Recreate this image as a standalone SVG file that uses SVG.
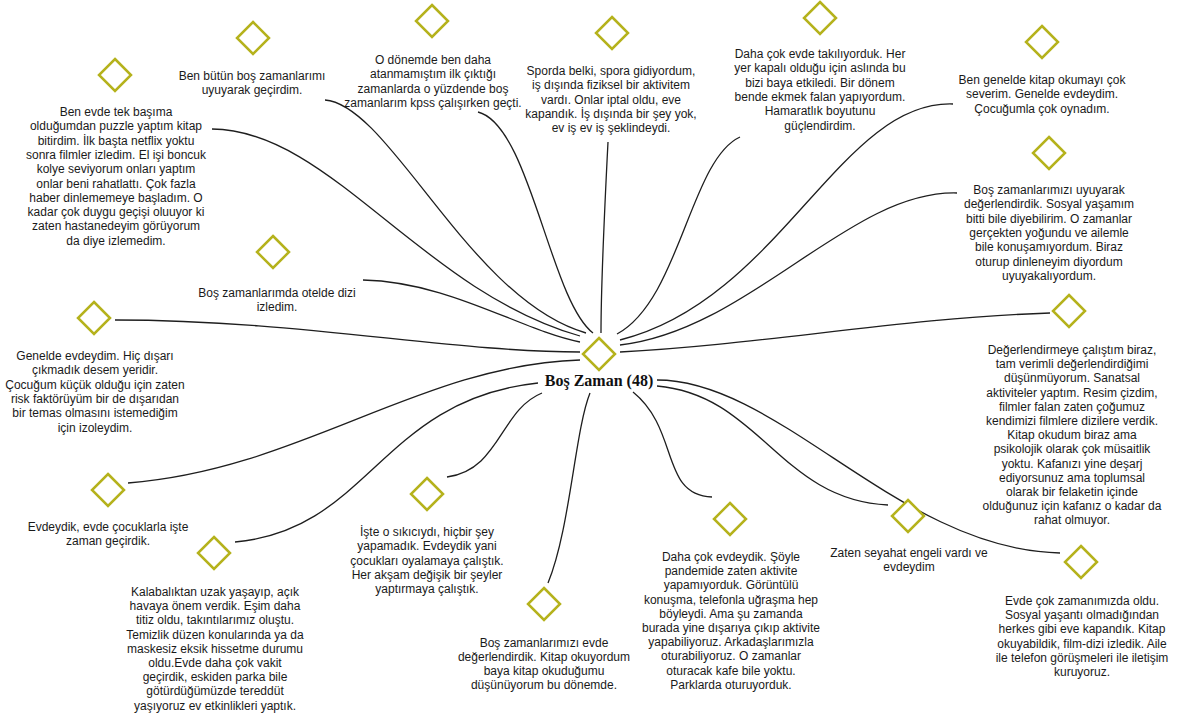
<svg xmlns="http://www.w3.org/2000/svg" width="1180" height="718" viewBox="0 0 1180 718">
<style>
.bg{fill:#ffffff}
.dm{fill:#ffffff;stroke:#b5b21c;stroke-width:2.5}
.t{font-family:"Liberation Sans",Arial,sans-serif;font-size:12px;fill:#1a1a1a;text-anchor:middle}
.c{fill:none;stroke:#1e1e1e;stroke-width:1.3}
.lbl{font-family:"Liberation Serif","Times New Roman",serif;font-size:16px;font-weight:bold;fill:#111;text-anchor:middle}
</style>
<defs>
<path id="dia" d="M0,-16 L16,0 L0,16 L-16,0 Z"/>
</defs>
<rect class="bg" width="1180" height="718"/>
<g id="connectors">
<path class="c" d="M212,129 C330,130 420,290 580,336"/>
<path class="c" d="M325,100 C390,105 470,300 586,333"/>
<path class="c" d="M478,112 C530,125 550,300 593,333"/>
<path class="c" d="M608,142 C604,220 601,290 601,333"/>
<path class="c" d="M740,137 C690,160 680,300 617,334"/>
<path class="c" d="M953,104 C840,100 780,300 620,340"/>
<path class="c" d="M957,193 C850,190 750,330 620,345"/>
<path class="c" d="M1050,313 C900,318 760,345 620,352"/>
<path class="c" d="M363,280 C450,282 520,330 580,342"/>
<path class="c" d="M115,320 C300,320 450,352 580,352"/>
<path class="c" d="M128,483 C300,470 420,365 580,360"/>
<path class="c" d="M235,542 C370,530 380,400 538,383"/>
<path class="c" d="M447,477 C500,470 500,410 542,393"/>
<path class="c" d="M548,583 C570,530 575,430 590,393"/>
<path class="c" d="M633,392 C680,430 660,495 712,497"/>
<path class="c" d="M657,386 C760,395 780,500 888,505"/>
<path class="c" d="M657,380 C780,380 900,550 1060,553"/>
</g>
<g id="center">
<use href="#dia" class="dm" x="599" y="354"/>
<text class="lbl" x="599" y="386">Boş Zaman (48)</text>
</g>
<g id="nA">
<use href="#dia" class="dm" x="253" y="38"/>
<text class="t" x="252" y="80"><tspan x="252">Ben bütün boş zamanlarımı</tspan><tspan x="252" dy="14.3">uyuyarak geçirdim.</tspan></text>
</g>
<g id="nB">
<use href="#dia" class="dm" x="115" y="75"/>
<text class="t" y="116"><tspan x="116">Ben evde tek başıma</tspan><tspan x="116" dy="14.3">olduğumdan puzzle yaptım kitap</tspan><tspan x="116" dy="14.3">bitirdim. İlk başta netflix yoktu</tspan><tspan x="116" dy="14.3">sonra filmler izledim. El işi boncuk</tspan><tspan x="116" dy="14.3">kolye seviyorum onları yaptım</tspan><tspan x="116" dy="14.3">onlar beni rahatlattı. Çok fazla</tspan><tspan x="116" dy="14.3">haber dinlememeye başladım. O</tspan><tspan x="116" dy="14.3">kadar çok duygu geçişi oluuyor ki</tspan><tspan x="116" dy="14.3">zaten hastanedeyim görüyorum</tspan><tspan x="116" dy="14.3">da diye izlemedim.</tspan></text>
</g>
<g id="nC">
<use href="#dia" class="dm" x="432" y="21"/>
<text class="t" y="64"><tspan x="433">O dönemde ben daha</tspan><tspan x="433" dy="14.3">atanmamıştım ilk çıktığı</tspan><tspan x="433" dy="14.3">zamanlarda o yüzdende boş</tspan><tspan x="433" dy="14.3">zamanlarım kpss çalışırken geçti.</tspan></text>
</g>
<g id="nD">
<use href="#dia" class="dm" x="612" y="33"/>
<text class="t" y="75"><tspan x="611">Sporda belki, spora gidiyordum,</tspan><tspan x="611" dy="14.3">iş dışında fiziksel bir aktivitem</tspan><tspan x="611" dy="14.3">vardı. Onlar iptal oldu, eve</tspan><tspan x="611" dy="14.3">kapandık. İş dışında bir şey yok,</tspan><tspan x="611" dy="14.3">ev iş ev iş şeklindeydi.</tspan></text>
</g>
<g id="nE">
<use href="#dia" class="dm" x="820" y="18"/>
<text class="t" y="58"><tspan x="820">Daha çok evde takılıyorduk. Her</tspan><tspan x="820" dy="14.3">yer kapalı olduğu için aslında bu</tspan><tspan x="820" dy="14.3">bizi baya etkiledi. Bir dönem</tspan><tspan x="820" dy="14.3">bende ekmek falan yapıyordum.</tspan><tspan x="820" dy="14.3">Hamaratlık boyutunu</tspan><tspan x="820" dy="14.3">güçlendirdim.</tspan></text>
</g>
<g id="nF">
<use href="#dia" class="dm" x="1042" y="42"/>
<text class="t" y="84"><tspan x="1042">Ben genelde kitap okumayı çok</tspan><tspan x="1042" dy="14.3">severim. Genelde evdeydim.</tspan><tspan x="1042" dy="14.3">Çocuğumla çok oynadım.</tspan></text>
</g>
<g id="nG">
<use href="#dia" class="dm" x="1049" y="153"/>
<text class="t" y="194"><tspan x="1049">Boş zamanlarımızı uyuyarak</tspan><tspan x="1049" dy="14.3">değerlendirdik. Sosyal yaşamım</tspan><tspan x="1049" dy="14.3">bitti bile diyebilirim. O zamanlar</tspan><tspan x="1049" dy="14.3">gerçekten yoğundu ve ailemle</tspan><tspan x="1049" dy="14.3">bile konuşamıyordum. Biraz</tspan><tspan x="1049" dy="14.3">oturup dinleneyim diyordum</tspan><tspan x="1049" dy="14.3">uyuyakalıyordum.</tspan></text>
</g>
<g id="nH">
<use href="#dia" class="dm" x="273" y="252"/>
<text class="t" y="297"><tspan x="277">Boş zamanlarımda otelde dizi</tspan><tspan x="277" dy="14.3">izledim.</tspan></text>
</g>
<g id="nI">
<use href="#dia" class="dm" x="94" y="318"/>
<text class="t" y="360"><tspan x="95">Genelde evdeydim. Hiç dışarı</tspan><tspan x="95" dy="14.3">çıkmadık desem yeridir.</tspan><tspan x="95" dy="14.3">Çocuğum küçük olduğu için zaten</tspan><tspan x="95" dy="14.3">risk faktörüyüm bir de dışarıdan</tspan><tspan x="95" dy="14.3">bir temas olmasını istemediğim</tspan><tspan x="95" dy="14.3">için izoleydim.</tspan></text>
</g>
<g id="nJ">
<use href="#dia" class="dm" x="1069" y="311"/>
<text class="t" y="354"><tspan x="1072">Değerlendirmeye çalıştım biraz,</tspan><tspan x="1072" dy="14.2">tam verimli değerlendirdiğimi</tspan><tspan x="1072" dy="14.2">düşünmüyorum. Sanatsal</tspan><tspan x="1072" dy="14.2">aktiviteler yaptım. Resim çizdim,</tspan><tspan x="1072" dy="14.2">filmler falan zaten çoğumuz</tspan><tspan x="1072" dy="14.2">kendimizi filmlere dizilere verdik.</tspan><tspan x="1072" dy="14.2">Kitap okudum biraz ama</tspan><tspan x="1072" dy="14.2">psikolojik olarak çok müsaitlik</tspan><tspan x="1072" dy="14.2">yoktu. Kafanızı yine deşarj</tspan><tspan x="1072" dy="14.2">ediyorsunuz ama toplumsal</tspan><tspan x="1072" dy="14.2">olarak bir felaketin içinde</tspan><tspan x="1072" dy="14.2">olduğunuz için kafanız o kadar da</tspan><tspan x="1072" dy="14.2">rahat olmuyor.</tspan></text>
</g>
<g id="nK">
<use href="#dia" class="dm" x="108" y="490"/>
<text class="t" y="531"><tspan x="108">Evdeydik, evde çocuklarla işte</tspan><tspan x="108" dy="14.3">zaman geçirdik.</tspan></text>
</g>
<g id="nL">
<use href="#dia" class="dm" x="214" y="553"/>
<text class="t" y="596"><tspan x="215">Kalabalıktan uzak yaşayıp, açık</tspan><tspan x="215" dy="14.2">havaya önem verdik. Eşim daha</tspan><tspan x="215" dy="14.2">titiz oldu, takıntılarımız oluştu.</tspan><tspan x="215" dy="14.2">Temizlik düzen konularında ya da</tspan><tspan x="215" dy="14.2">maskesiz eksik hissetme durumu</tspan><tspan x="215" dy="14.2">oldu.Evde daha çok vakit</tspan><tspan x="215" dy="14.2">geçirdik, eskiden parka bile</tspan><tspan x="215" dy="14.2">götürdüğümüzde tereddüt</tspan><tspan x="215" dy="14.2">yaşıyoruz ev etkinlikleri yaptık.</tspan></text>
</g>
<g id="nM">
<use href="#dia" class="dm" x="427" y="494"/>
<text class="t" y="536"><tspan x="427">İşte o sıkıcıydı, hiçbir şey</tspan><tspan x="427" dy="14.3">yapamadık. Evdeydik yani</tspan><tspan x="427" dy="14.3">çocukları oyalamaya çalıştık.</tspan><tspan x="427" dy="14.3">Her akşam değişik bir şeyler</tspan><tspan x="427" dy="14.3">yaptırmaya çalıştık.</tspan></text>
</g>
<g id="nN">
<use href="#dia" class="dm" x="544" y="604"/>
<text class="t" y="647"><tspan x="544">Boş zamanlarımızı evde</tspan><tspan x="544" dy="14">değerlendirdik. Kitap okuyordum</tspan><tspan x="544" dy="14">baya kitap okuduğumu</tspan><tspan x="544" dy="14">düşünüyorum bu dönemde.</tspan></text>
</g>
<g id="nO">
<use href="#dia" class="dm" x="730" y="519"/>
<text class="t" y="561"><tspan x="731">Daha çok evdeydik. Şöyle</tspan><tspan x="731" dy="14.2">pandemide zaten aktivite</tspan><tspan x="731" dy="14.2">yapamıyorduk. Görüntülü</tspan><tspan x="731" dy="14.2">konuşma, telefonla uğraşma hep</tspan><tspan x="731" dy="14.2">böyleydi. Ama şu zamanda</tspan><tspan x="731" dy="14.2">burada yine dışarıya çıkıp aktivite</tspan><tspan x="731" dy="14.2">yapabiliyoruz. Arkadaşlarımızla</tspan><tspan x="731" dy="14.2">oturabiliyoruz. O zamanlar</tspan><tspan x="731" dy="14.2">oturacak kafe bile yoktu.</tspan><tspan x="731" dy="14.2">Parklarda oturuyorduk.</tspan></text>
</g>
<g id="nP">
<use href="#dia" class="dm" x="908" y="516"/>
<text class="t" y="557"><tspan x="909">Zaten seyahat engeli vardı ve</tspan><tspan x="909" dy="14.3">evdeydim</tspan></text>
</g>
<g id="nQ">
<use href="#dia" class="dm" x="1081" y="562"/>
<text class="t" y="605"><tspan x="1082">Evde çok zamanımızda oldu.</tspan><tspan x="1082" dy="14.2">Sosyal yaşantı olmadığından</tspan><tspan x="1082" dy="14.2">herkes gibi eve kapandık. Kitap</tspan><tspan x="1082" dy="14.2">okuyabildik, film-dizi izledik. Aile</tspan><tspan x="1082" dy="14.2">ile telefon görüşmeleri ile iletişim</tspan><tspan x="1082" dy="14.2">kuruyoruz.</tspan></text>
</g>
</svg>
